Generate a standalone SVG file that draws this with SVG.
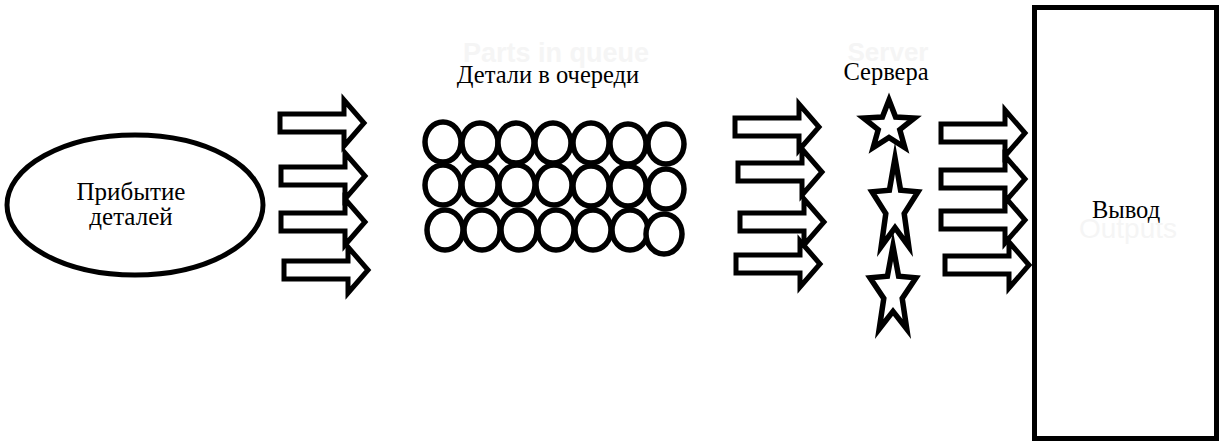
<svg xmlns="http://www.w3.org/2000/svg" width="1221" height="445" viewBox="0 0 1221 445">
<style>
.lbl{font-family:"Liberation Serif","DejaVu Serif",serif;font-size:24.5px;fill:#000;text-anchor:middle}
.ghost{font-family:"Liberation Sans",Arial,sans-serif;font-size:26px;font-weight:bold;fill:#f5f5f5;text-anchor:middle}
.shape{fill:#fff;stroke:#000;stroke-width:5}
.ball{fill:#fff;stroke:#000;stroke-width:5.5}
.arrow{fill:#fff;stroke:#000;stroke-width:5;stroke-linejoin:miter;stroke-miterlimit:10}
.star{fill:#fff;stroke:#000;stroke-width:5.5;stroke-linejoin:miter;stroke-miterlimit:10}
</style>
<defs>
<path id="arr" d="M0,-9 H64 V-23 L84,0 L64,23 V9 H0 Z"/>
</defs>
<rect width="1221" height="445" fill="#fff"/>

<g id="arrivals">
<ellipse class="shape" cx="135" cy="205" rx="128" ry="70"/>
<text class="lbl" style="font-size:25px" x="131" y="200">Прибытие</text>
<text class="lbl" style="font-size:25px" x="131" y="225">деталей</text>
</g>

<g id="queue">
<text class="ghost" style="font-size:27px" x="556" y="62">Parts in queue</text>
<text class="lbl" x="548" y="83">Детали в очереди</text>
<g class="ball">
<ellipse cx="443" cy="142" rx="18" ry="20"/>
<ellipse cx="480" cy="143" rx="18" ry="20"/>
<ellipse cx="516" cy="143" rx="18" ry="20"/>
<ellipse cx="553" cy="143" rx="18" ry="20"/>
<ellipse cx="591" cy="143" rx="18" ry="20"/>
<ellipse cx="628" cy="144" rx="18" ry="20"/>
<ellipse cx="666" cy="144" rx="18" ry="20"/>
<ellipse cx="443" cy="185" rx="18" ry="20"/>
<ellipse cx="480" cy="185" rx="18" ry="20"/>
<ellipse cx="517" cy="185" rx="18" ry="20"/>
<ellipse cx="554" cy="185" rx="18" ry="20"/>
<ellipse cx="591" cy="186" rx="18" ry="20"/>
<ellipse cx="628" cy="186" rx="18" ry="20"/>
<ellipse cx="666" cy="189" rx="18" ry="20"/>
<ellipse cx="445" cy="230" rx="18" ry="20"/>
<ellipse cx="482" cy="230" rx="18" ry="20"/>
<ellipse cx="519" cy="230" rx="18" ry="20"/>
<ellipse cx="556" cy="230" rx="18" ry="20"/>
<ellipse cx="593" cy="230" rx="18" ry="20"/>
<ellipse cx="630" cy="230" rx="18" ry="20"/>
<ellipse cx="664" cy="234" rx="18" ry="20"/>
</g>
</g>

<g id="servers">
<text class="ghost" x="888" y="61">Server</text>
<text class="lbl" x="886" y="80">Сервера</text>
<polygon class="star" points="889,100 895.6,117 914.5,118 899.8,129.7 904.8,147.6 889,137.4 873.2,147.6 878.2,129.7 863.5,118 882.4,117"/>
<polygon class="star" points="895,158 900.6,190.2 918,191.8 904.2,213.6 908.8,246.6 895,227.6 881.2,246.6 885.8,213.6 872,191.8 889.4,190.2"/>
<polygon class="star" points="893,246 898.6,276.2 916,277.8 902.2,298.4 906.8,329 893,311.4 879.2,329 883.8,298.4 870,277.8 887.4,276.2"/>
</g>

<g id="output">
<rect class="shape" x="1034.5" y="7.5" width="182" height="431"/>
<text class="ghost" style="font-weight:normal;font-size:28px" x="1128" y="238">Outputs</text>
<text class="lbl" x="1126" y="218">Вывод</text>
</g>

<g id="connectors">
<use href="#arr" class="arrow" transform="translate(280,123)"/>
<use href="#arr" class="arrow" transform="translate(281,176)"/>
<use href="#arr" class="arrow" transform="translate(281,222)"/>
<use href="#arr" class="arrow" transform="translate(284,270)"/>
<use href="#arr" class="arrow" transform="translate(735,127)"/>
<use href="#arr" class="arrow" transform="translate(738,172)"/>
<use href="#arr" class="arrow" transform="translate(740,222)"/>
<use href="#arr" class="arrow" transform="translate(736,264)"/>
<use href="#arr" class="arrow" transform="translate(941,133)"/>
<use href="#arr" class="arrow" transform="translate(941,179)"/>
<use href="#arr" class="arrow" transform="translate(941,220)"/>
<use href="#arr" class="arrow" transform="translate(945,265)"/>
</g>
</svg>
